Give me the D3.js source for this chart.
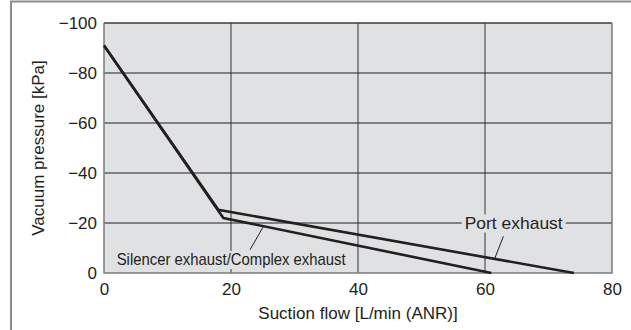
<!DOCTYPE html>
<html>
<head>
<meta charset="utf-8">
<script src="https://cdn.jsdelivr.net/npm/d3@7"></script>
<style>
  html, body { margin: 0; padding: 0; background: #fff; }
  svg { display: block; }
  text { font-family: "Liberation Sans", Arial, Helvetica, sans-serif; fill: #231f20; }
</style>
</head>
<body>
<svg id="chart" width="631" height="330"></svg>
<script>
// Suction flow characteristics of the vacuum ejector
const xTicks = [0, 20, 40, 60, 80];
const yTicks = [0, -20, -40, -60, -80, -100];

// [suction flow L/min (ANR), vacuum pressure kPa]
const portExhaust = [[0, -91], [18, -25.3], [74, 0]];
const silencerExhaust = [[0, -91], [18.8, -22], [61, 0]];

// leader lines: [point on curve, point near label]
const portLeader = [[61.5, -5.6], [62.9, -14.7]];
const silencerLeader = [[25.1, -18.6], [23.0, -9.3]];

const seriesLabels = [
  { text: "Port exhaust", x: 56.8, y: -17.8, width: 98 },
  { text: "Silencer exhaust/Complex exhaust", x: 2.0, y: -3.2, width: 229 }
];

const svg = d3.select("#chart");
const plot = { left: 104, right: 612, top: 23, bottom: 273 };

const x = d3.scaleLinear().domain([0, 80]).range([plot.left, plot.right]);
const y = d3.scaleLinear().domain([0, -100]).range([plot.bottom, plot.top]);

// outer frame
svg.append("rect")
  .attr("x", 11).attr("y", 1.5)
  .attr("width", 700).attr("height", 400)
  .attr("fill", "none").attr("stroke", "#8c8c8c").attr("stroke-width", 2);

// plot background
svg.append("rect")
  .attr("x", plot.left).attr("y", plot.top)
  .attr("width", plot.right - plot.left).attr("height", plot.bottom - plot.top)
  .attr("fill", "#e0e1e3");

// vertical grid (gray)
svg.append("g").selectAll("line")
  .data(xTicks.filter(d => d > 0 && d < 80))
  .join("line")
  .attr("x1", d => x(d)).attr("x2", d => x(d))
  .attr("y1", plot.top).attr("y2", plot.bottom)
  .attr("stroke", "#6d6e71").attr("stroke-width", 1.5);

// horizontal grid (dark)
svg.append("g").selectAll("line")
  .data(yTicks.filter(d => d < 0 && d > -100))
  .join("line")
  .attr("x1", plot.left).attr("x2", plot.right)
  .attr("y1", d => y(d)).attr("y2", d => y(d))
  .attr("stroke", "#231f20").attr("stroke-width", 1);

// plot border
svg.append("line")
  .attr("x1", plot.left).attr("x2", plot.right)
  .attr("y1", plot.top).attr("y2", plot.top)
  .attr("stroke", "#3a3a3c").attr("stroke-width", 1.5);
svg.append("path")
  .attr("d", `M${plot.left},${plot.top}V${plot.bottom}H${plot.right}V${plot.top}`)
  .attr("fill", "none").attr("stroke", "#7a7b7d").attr("stroke-width", 1.5);

// axes (labels only)
const xAxis = svg.append("g")
  .attr("transform", `translate(0,${plot.bottom})`)
  .call(d3.axisBottom(x).tickValues(xTicks).tickSize(0).tickPadding(0));
xAxis.select(".domain").remove();
xAxis.selectAll("text")
  .attr("y", 22).attr("dy", 0)
  .style("font-size", "17px").style("font-family", null).attr("fill", "#231f20");

const yAxis = svg.append("g")
  .attr("transform", `translate(${plot.left},0)`)
  .call(d3.axisLeft(y).tickValues(yTicks).tickSize(0).tickPadding(0));
yAxis.select(".domain").remove();
yAxis.selectAll("text")
  .attr("x", -7).attr("dy", "0.35em")
  .style("font-size", "17px").style("font-family", null).attr("fill", "#231f20");
yAxis.attr("font-family", null).attr("font-size", null);
xAxis.attr("font-family", null).attr("font-size", null);

// curves
const line = d3.line().x(d => x(d[0])).y(d => y(d[1]));
svg.append("g").selectAll("path")
  .data([portExhaust, silencerExhaust])
  .join("path")
  .attr("d", line)
  .attr("fill", "none").attr("stroke", "#231f20")
  .attr("stroke-width", 2.6).attr("stroke-linejoin", "miter");

// series labels with plot-coloured backing
const lab = svg.append("g").selectAll("g")
  .data(seriesLabels)
  .join("g");
lab.append("rect")
  .attr("x", d => x(d.x) - 3)
  .attr("y", d => y(d.y) - 14)
  .attr("width", d => d.width + 6)
  .attr("height", 18)
  .attr("fill", "#e0e1e3");
lab.append("text")
  .attr("x", d => x(d.x))
  .attr("y", d => y(d.y))
  .attr("textLength", d => d.width)
  .attr("lengthAdjust", "spacingAndGlyphs")
  .style("font-size", "17px")
  .text(d => d.text);

// leader lines
svg.append("g").selectAll("line")
  .data([portLeader, silencerLeader])
  .join("line")
  .attr("x1", d => x(d[0][0])).attr("y1", d => y(d[0][1]))
  .attr("x2", d => x(d[1][0])).attr("y2", d => y(d[1][1]))
  .attr("stroke", "#231f20").attr("stroke-width", 1);

// axis titles
svg.append("text")
  .attr("x", x(40)).attr("y", 319)
  .attr("text-anchor", "middle")
  .style("font-size", "17px")
  .text("Suction flow [L/min (ANR)]");

svg.append("text")
  .attr("transform", `translate(44,${y(-50)}) rotate(-90)`)
  .attr("text-anchor", "middle")
  .style("font-size", "17px")
  .text("Vacuum pressure [kPa]");
</script>
</body>
</html>
